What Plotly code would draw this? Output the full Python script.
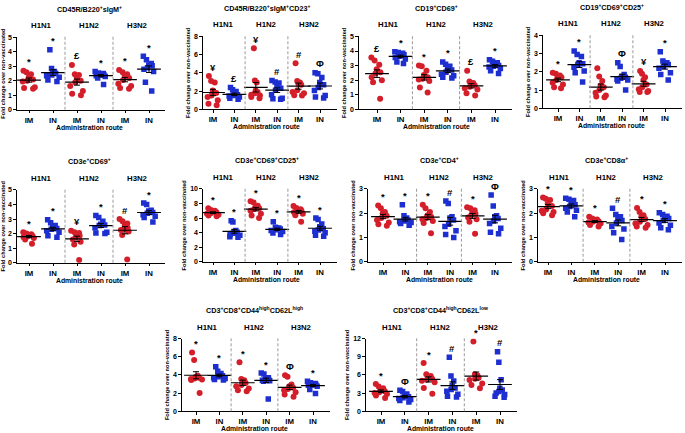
import numpy as np
import plotly.graph_objects as go

W, H = 685, 433
FONT = "Arial, 'Liberation Sans', Helvetica, sans-serif"
RED = "#d41f2b"
BLUE = "#1d2fd0"

groups = ["H1N1", "H1N2", "H3N2"]
tick_text = ["IM", "IN", "IM", "IN", "IM", "IN"]
x_title = "Administration route"
y_title = "Fold change over non-vaccinated"

titles = [
    "CD45R/B220<sup>+</sup>sIgM<sup>+</sup>",
    "CD45R/B220<sup>+</sup>sIgM<sup>+</sup>CD23<sup>+</sup>",
    "CD19<sup>+</sup>CD69<sup>+</sup>",
    "CD19<sup>+</sup>CD69<sup>+</sup>CD25<sup>+</sup>",
    "CD3e<sup>+</sup>CD69<sup>+</sup>",
    "CD3e<sup>+</sup>CD69<sup>+</sup>CD25<sup>+</sup>",
    "CD3e<sup>+</sup>CD4<sup>+</sup>",
    "CD3e<sup>+</sup>CD8α<sup>+</sup>",
    "CD3<sup>+</sup>CD8<sup>+</sup>CD44<sup>high</sup>CD62L<sup>high</sup>",
    "CD3<sup>+</sup>CD8<sup>+</sup>CD44<sup>high</sup>CD62L<sup>low</sup>",
]

# order of groups in each panel: H1N1-IM, H1N1-IN, H1N2-IM, H1N2-IN, H3N2-IM, H3N2-IN
b_sigm = [
    [2.7, 2.6, 2.45, 2.25, 2.1, 2.0, 1.95, 1.55, 1.5, 1.45],
    [4.15, 2.85, 2.65, 2.55, 2.5, 2.4, 2.35, 2.25, 2.05, 1.95],
    [3.1, 2.45, 2.4, 2.2, 2.0, 1.9, 1.65, 1.3, 1.1, 1.0],
    [2.65, 2.55, 2.5, 2.45, 2.4, 2.35, 2.3, 2.2, 1.75, 2.4],
    [2.75, 2.6, 2.45, 2.35, 2.2, 2.05, 1.8, 1.65, 1.5, 1.45],
    [3.7, 3.45, 3.2, 3.1, 3.05, 2.9, 2.8, 2.65, 1.9, 1.3],
]
b_sigm_cd23 = [
    [3.65, 3.1, 2.95, 2.05, 1.8, 1.5, 1.35, 1.0, 0.6, 0.45],
    [2.4, 2.15, 1.95, 1.7, 1.6, 1.5, 1.45, 1.35, 1.2, 1.1],
    [6.7, 3.15, 2.95, 2.05, 1.9, 1.75, 1.6, 1.5, 1.35, 1.2],
    [3.15, 3.0, 2.9, 2.5, 2.3, 2.1, 1.6, 1.2, 1.15, 1.1],
    [5.05, 3.1, 2.95, 2.8, 2.7, 2.1, 1.9, 1.75, 1.55, 1.5],
    [4.0, 3.9, 3.5, 2.95, 2.7, 2.4, 2.05, 1.5, 1.35, 1.25],
]
cd19_cd69 = [
    [3.55, 3.35, 3.05, 2.75, 2.55, 2.45, 2.2, 2.0, 1.85, 0.72],
    [3.95, 3.9, 3.85, 3.8, 3.75, 3.65, 3.55, 3.45, 3.25, 3.15],
    [3.0, 2.95, 2.65, 2.35, 2.2, 2.1, 2.05, 1.95, 1.5, 1.15],
    [3.25, 3.1, 2.95, 2.8, 2.7, 2.55, 2.4, 2.3, 2.2, 2.15],
    [2.65, 1.9, 1.8, 1.7, 1.65, 1.55, 1.45, 1.35, 1.1, 0.95],
    [3.4, 3.3, 3.2, 3.1, 3.0, 2.95, 2.9, 2.8, 2.65, 2.45],
]
cd19_cd69_cd25 = [
    [1.95, 1.9, 1.8, 1.75, 1.7, 1.55, 1.4, 1.3, 1.15, 1.1],
    [3.15, 2.95, 2.85, 2.5, 2.45, 2.4, 2.25, 2.05, 1.95, 1.45],
    [2.2, 1.75, 1.5, 1.25, 1.15, 1.0, 0.85, 0.7, 0.65, 0.6],
    [2.5, 2.3, 1.85, 1.75, 1.7, 1.65, 1.6, 1.55, 1.5, 1.0],
    [2.05, 1.9, 1.7, 1.55, 1.3, 1.15, 1.05, 0.95, 0.9, 0.9],
    [3.1, 2.6, 2.5, 2.45, 2.4, 2.3, 2.2, 1.95, 1.85, 1.55],
]
cd3_cd69 = [
    [2.1, 2.0, 1.95, 1.9, 1.85, 1.8, 1.75, 1.7, 1.6, 1.3],
    [2.95, 2.75, 2.55, 2.4, 2.35, 2.3, 2.2, 2.1, 1.85, 1.75],
    [2.2, 2.1, 2.05, 1.95, 1.85, 1.75, 1.6, 1.45, 1.25, 0.18],
    [3.25, 3.1, 2.85, 2.65, 2.6, 2.55, 2.4, 2.1, 2.05, 2.0],
    [3.0, 2.85, 2.7, 2.55, 2.4, 2.3, 2.25, 2.15, 1.9, 0.22],
    [4.1, 4.0, 3.6, 3.55, 3.45, 3.4, 3.3, 3.2, 3.1, 2.8],
]
cd3_cd69_cd25 = [
    [7.35, 7.1, 7.0, 6.9, 6.8, 6.7, 6.6, 6.45, 6.35, 6.25],
    [5.65, 5.45, 4.3, 4.15, 4.05, 3.9, 3.75, 3.65, 3.45, 3.35],
    [8.3, 8.15, 7.7, 7.5, 7.35, 7.25, 7.0, 6.6, 6.35, 6.0],
    [5.5, 4.75, 4.65, 4.6, 4.5, 4.4, 4.3, 4.15, 3.95, 3.75],
    [7.65, 7.4, 7.2, 7.1, 7.0, 6.9, 6.8, 6.6, 6.4, 5.5],
    [6.0, 5.8, 5.2, 4.8, 4.55, 4.35, 4.2, 4.0, 3.65, 3.5],
]
cd3_cd4 = [
    [2.32, 2.2, 2.05, 2.0, 1.9, 1.8, 1.72, 1.62, 1.55, 1.48],
    [2.35, 1.9, 1.8, 1.75, 1.72, 1.68, 1.65, 1.62, 1.58, 1.5],
    [2.35, 2.2, 2.05, 1.92, 1.85, 1.8, 1.75, 1.68, 1.6, 1.18],
    [2.5, 2.4, 1.85, 1.8, 1.72, 1.55, 1.45, 1.28, 1.12, 1.0],
    [2.25, 2.2, 2.12, 2.05, 1.98, 1.92, 1.82, 1.75, 1.65, 1.15],
    [2.75, 2.3, 1.9, 1.85, 1.78, 1.68, 1.58, 1.38, 1.22, 1.15],
]
cd3_cd8a = [
    [2.65, 2.6, 2.55, 2.4, 2.3, 2.15, 2.1, 2.05, 2.0, 1.92],
    [2.62, 2.58, 2.52, 2.45, 2.35, 2.28, 2.2, 2.12, 2.05, 1.85],
    [1.85, 1.78, 1.74, 1.7, 1.67, 1.65, 1.62, 1.58, 1.52, 1.45],
    [2.2, 1.95, 1.85, 1.78, 1.7, 1.6, 1.45, 1.35, 1.2, 0.92],
    [2.22, 2.05, 1.92, 1.85, 1.76, 1.65, 1.58, 1.52, 1.45, 1.4],
    [2.02, 1.95, 1.88, 1.84, 1.78, 1.7, 1.6, 1.5, 1.4, 1.32],
]
cd8_cm = [
    [6.45, 5.65, 3.9, 3.8, 3.7, 3.6, 3.55, 3.5, 3.45, 2.0],
    [4.9, 4.4, 4.15, 4.0, 3.9, 3.8, 3.7, 3.6, 3.5, 3.45],
    [5.4, 3.55, 3.4, 3.25, 3.1, 2.9, 2.75, 2.5, 2.3, 2.2],
    [4.2, 4.1, 3.7, 3.6, 3.5, 3.45, 3.4, 3.35, 3.3, 1.35],
    [3.95, 3.8, 2.95, 2.75, 2.6, 2.45, 2.3, 2.1, 1.85, 1.6],
    [3.3, 3.15, 3.05, 3.0, 2.95, 2.9, 2.85, 2.75, 2.4, 1.95],
]
cd8_em = [
    [4.5, 4.1, 3.8, 3.5, 3.3, 3.15, 3.0, 2.85, 2.6, 2.2],
    [3.45, 3.25, 2.85, 2.6, 2.4, 2.25, 2.1, 1.95, 1.8, 1.55],
    [7.95, 6.1, 5.8, 5.55, 5.35, 5.2, 5.05, 4.8, 3.85, 2.9],
    [8.9, 5.8, 5.0, 4.25, 3.85, 3.6, 3.3, 2.8, 2.5, 2.35],
    [11.5, 6.1, 5.9, 5.75, 5.55, 5.35, 5.15, 4.6, 4.35, 3.8],
    [9.8, 8.1, 5.2, 3.8, 3.5, 3.25, 3.0, 2.75, 2.5, 2.3],
]

marks = [
    ["*", "*", "£", "*", "*", "*"],
    ["¥", "£", "¥", "#", "#", "Φ"],
    ["£", "*", "*", "*", "£", "*"],
    ["*", "*", "", "Φ", "¥", "*"],
    ["*", "*", "¥", "*", "#", "*"],
    ["*", "*", "*", "*", "*", "*"],
    ["*", "*", "*", "#", "*", "Φ"],
    ["*", "*", "*", "#", "*", "*"],
    ["*", "*", "*", "*", "Φ", "*"],
    ["*", "Φ", "*", "#", "*", "#"],
]

values = [b_sigm, b_sigm_cd23, cd19_cd69, cd19_cd69_cd25, cd3_cd69,
          cd3_cd69_cd25, cd3_cd4, cd3_cd8a, cd8_cm, cd8_em]
y_max = [5, 8, 5, 4, 5, 10, 3, 3, 8, 12]
y_dtick = [1, 2, 1, 1, 1, 2, 1, 1, 2, 3]

# layout geometry in pixels: y-axis x, first category x, last category x, right end, zero y, top y
geom = [
    (17, 29, 149, 165, 107.5, 34),
    (203, 213, 320, 337, 107, 33),
    (359, 377, 495, 512, 107, 33),
    (543, 558, 665, 682, 106, 32),
    (17, 29, 149, 165, 263, 189),
    (203, 213, 320, 337, 262, 188),
    (368, 383, 495, 512, 262, 188),
    (538, 548, 665, 682, 262, 188),
    (182, 196, 313, 330, 414, 340),
    (366, 381, 500, 517, 414, 340),
]

fig = go.Figure()
layout = {}
annotations = []
shapes = []

for i in range(len(values)):
    k = i + 1
    xa = "x" if k == 1 else f"x{k}"
    ya = "y" if k == 1 else f"y{k}"
    xkey = "xaxis" if k == 1 else f"xaxis{k}"
    ykey = "yaxis" if k == 1 else f"yaxis{k}"
    ax, c0, c5, right, y0, ytop = geom[i]
    unit = (c5 - c0) / 5.0
    r0 = (ax - c0) / unit
    r1 = (right - c0) / unit

    layout[xkey] = dict(
        domain=[ax / W, right / W], range=[r0, r1], anchor=ya, type="linear",
        tickmode="array", tickvals=list(range(6)), ticktext=tick_text,
        showline=True, linecolor="black", linewidth=1.3, ticks="outside",
        ticklen=2.5, tickwidth=1, tickcolor="black", showgrid=False, zeroline=False,
        tickfont=dict(family=FONT, size=7.8, color="black", weight="bold"),
    )
    layout[ykey] = dict(
        domain=[1 - y0 / H, 1 - ytop / H], range=[0, y_max[i]], anchor=xa,
        dtick=y_dtick[i], tick0=0, showline=True, linecolor="black", linewidth=1.3,
        ticks="outside", ticklen=2.5, tickwidth=1, tickcolor="black",
        showgrid=False, zeroline=False,
        tickfont=dict(family=FONT, size=7, color="black", weight="bold"),
        title=dict(text=y_title, standoff=3,
                   font=dict(family=FONT, size=5.7, color="black", weight="bold")),
    )

    for j, vals in enumerate(values[i]):
        is_im = (j % 2 == 0)
        color = RED if is_im else BLUE
        fig.add_trace(go.Box(
            x=[j] * len(vals), y=vals, xaxis=xa, yaxis=ya, orientation="v",
            boxpoints="all", jitter=0.95, pointpos=0, width=0.7,
            fillcolor="rgba(0,0,0,0)", line=dict(color="rgba(0,0,0,0)", width=0),
            whiskerwidth=0,
            marker=dict(color=color, symbol="circle" if is_im else "square",
                        size=6 if is_im else 5.5, line=dict(width=0)),
            showlegend=False, hoverinfo="y",
        ))
        arr = np.array(vals, dtype=float)
        m = arr.mean()
        sem = arr.std(ddof=1) / np.sqrt(len(arr))
        fig.add_trace(go.Scatter(
            x=[j], y=[m], xaxis=xa, yaxis=ya, mode="markers",
            marker=dict(symbol="line-ew", size=17, color="black",
                        line=dict(width=1.2, color="black")),
            error_y=dict(type="data", array=[sem], visible=True, color="black",
                         thickness=1, width=3),
            showlegend=False, hoverinfo="skip",
        ))
        if marks[i][j]:
            annotations.append(dict(
                x=j, y=float(arr.max()), xref=xa, yref=ya, text=marks[i][j],
                showarrow=False, yanchor="bottom", yshift=1.5,
                font=dict(family=FONT, size=9.5, color="black", weight="bold"),
            ))

    for g in range(len(groups)):
        annotations.append(dict(
            x=2 * g + 0.5, y=1, xref=xa, yref=f"{ya} domain", text=groups[g],
            showarrow=False, yanchor="middle", yshift=11.5,
            font=dict(family=FONT, size=7.8, color="black", weight="bold"),
        ))
        if g > 0:
            shapes.append(dict(
                type="line", xref=xa, yref=f"{ya} domain", x0=2 * g - 0.5, x1=2 * g - 0.5,
                y0=0, y1=1.03, line=dict(color="#9a9a9a", width=1, dash="3px,2px"),
            ))

    annotations.append(dict(
        x=2.5, y=1, xref=xa, yref=f"{ya} domain", text=titles[i],
        showarrow=False, yanchor="middle", yshift=28.5,
        font=dict(family=FONT, size=7.2, color="black", weight="bold"),
    ))
    annotations.append(dict(
        x=2.5, y=0, xref=xa, yref=f"{ya} domain", text=x_title,
        showarrow=False, yanchor="middle", yshift=-17.5,
        font=dict(family=FONT, size=6.8, color="black", weight="bold"),
    ))

fig.update_layout(
    width=W, height=H, margin=dict(l=0, r=0, t=0, b=0),
    paper_bgcolor="white", plot_bgcolor="white",
    showlegend=False, boxmode="overlay",
    annotations=annotations, shapes=shapes,
    **layout,
)

fig.write_html(
    "out.html",
    config={"displayModeBar": False},
    post_script="document.body.style.margin='0';document.body.style.overflow='hidden';",
)
